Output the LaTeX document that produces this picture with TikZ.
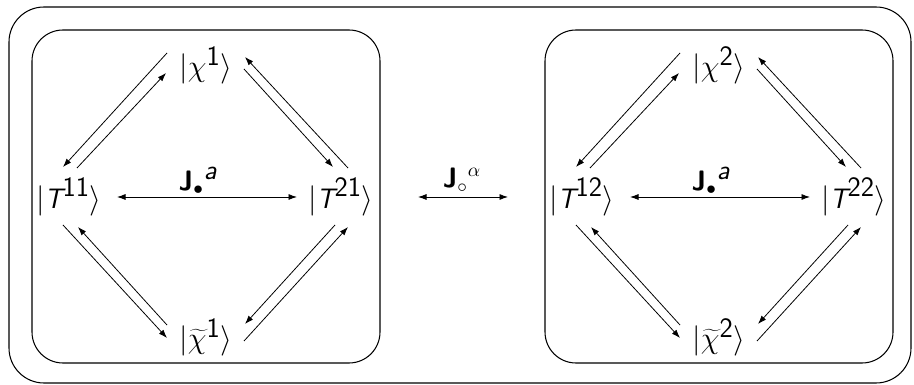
\documentclass[tikz,border=0pt]{standalone}
\usetikzlibrary{arrows.meta}

\begin{document}
\begin{tikzpicture}[x=0.2mm, y=-0.2mm,
  state/.style={font=\fontsize{16}{19}\selectfont, inner sep=0pt},
  lab/.style={font=\fontsize{16}{19}\selectfont, inner sep=0pt},
  frame/.style={draw, line width=0.6pt, rounded corners=6.2mm},
  tip/.style={-{Latex[length=1.7mm,width=1.2mm]}, line width=0.45pt},
  both/.style={{Latex[length=1.7mm,width=1.2mm]}-{Latex[length=1.7mm,width=1.2mm]}, line width=0.45pt}]

\useasboundingbox (0,0) rectangle (914,385);

% Outer frame
\draw[frame, rounded corners=7mm] (9,7) rectangle (911,383);

% Left box
\draw[frame] (32,30) rectangle (380,363);
\node[state] (chi1)  at (206,65)  {$|\chi^{\textsf{1}}\rangle$};
\node[state] (T11)   at (69,197)  {$|\textsf{\itshape T}^{\textsf{11}}\rangle$};
\node[state] (T21)   at (341,197) {$|\textsf{\itshape T}^{\textsf{21}}\rangle$};
\node[state] (tchi1) at (206,337) {$|\widetilde{\chi}^{\textsf{1}}\rangle$};

\draw[tip] ([shift={(-39,-12)}]chi1.center) -- ([shift={(-6,-30)}]T11.center);
\draw[tip] ([shift={(8,-29)}]T11.center) -- ([shift={(-40,8)}]chi1.center);
\draw[tip] ([shift={(7,-29)}]T21.center) -- ([shift={(39,-8)}]chi1.center);
\draw[tip] ([shift={(38,4)}]chi1.center) -- ([shift={(-8,-30)}]T21.center);
\draw[tip] ([shift={(-6,28)}]T11.center) -- ([shift={(-39,1)}]tchi1.center);
\draw[tip] ([shift={(-39,-12)}]tchi1.center) -- ([shift={(9,30)}]T11.center);
\draw[tip] ([shift={(-6,28)}]T21.center) -- ([shift={(39,-13)}]tchi1.center);
\draw[tip] ([shift={(38,4)}]tchi1.center) -- ([shift={(7,30)}]T21.center);

\draw[both] ([xshift=48*0.2mm]T11.center) -- ([xshift=-44*0.2mm]T21.center);
\node[lab] (j1) at (198,181) {$\textsf{\bfseries J}_{\bullet}{}^{\textsf{\itshape a}}$};

% Right box
\draw[frame] (545,30) rectangle (893,363);
\node[state] (chi2)  at (719,65)  {$|\chi^{\textsf{2}}\rangle$};
\node[state] (T12)   at (582,197) {$|\textsf{\itshape T}^{\textsf{12}}\rangle$};
\node[state] (T22)   at (854,197) {$|\textsf{\itshape T}^{\textsf{22}}\rangle$};
\node[state] (tchi2) at (719,337) {$|\widetilde{\chi}^{\textsf{2}}\rangle$};

\draw[tip] ([shift={(-39,-12)}]chi2.center) -- ([shift={(-6,-30)}]T12.center);
\draw[tip] ([shift={(8,-29)}]T12.center) -- ([shift={(-40,8)}]chi2.center);
\draw[tip] ([shift={(7,-29)}]T22.center) -- ([shift={(39,-8)}]chi2.center);
\draw[tip] ([shift={(38,4)}]chi2.center) -- ([shift={(-8,-30)}]T22.center);
\draw[tip] ([shift={(-6,28)}]T12.center) -- ([shift={(-39,1)}]tchi2.center);
\draw[tip] ([shift={(-39,-12)}]tchi2.center) -- ([shift={(9,30)}]T12.center);
\draw[tip] ([shift={(-6,28)}]T22.center) -- ([shift={(39,-13)}]tchi2.center);
\draw[tip] ([shift={(38,4)}]tchi2.center) -- ([shift={(7,30)}]T22.center);

\draw[both] ([xshift=48*0.2mm]T12.center) -- ([xshift=-44*0.2mm]T22.center);
\node[lab] (j2) at (711,181) {$\textsf{\bfseries J}_{\bullet}{}^{\textsf{\itshape a}}$};

% Link between the boxes
\draw[both] ([xshift=77*0.2mm]T21.center) -- ([xshift=-74*0.2mm]T12.center);
\node[lab] (jal) at (462,180) {$\textsf{\bfseries J}_{\circ}{}^{\alpha}$};

\end{tikzpicture}
\end{document}
